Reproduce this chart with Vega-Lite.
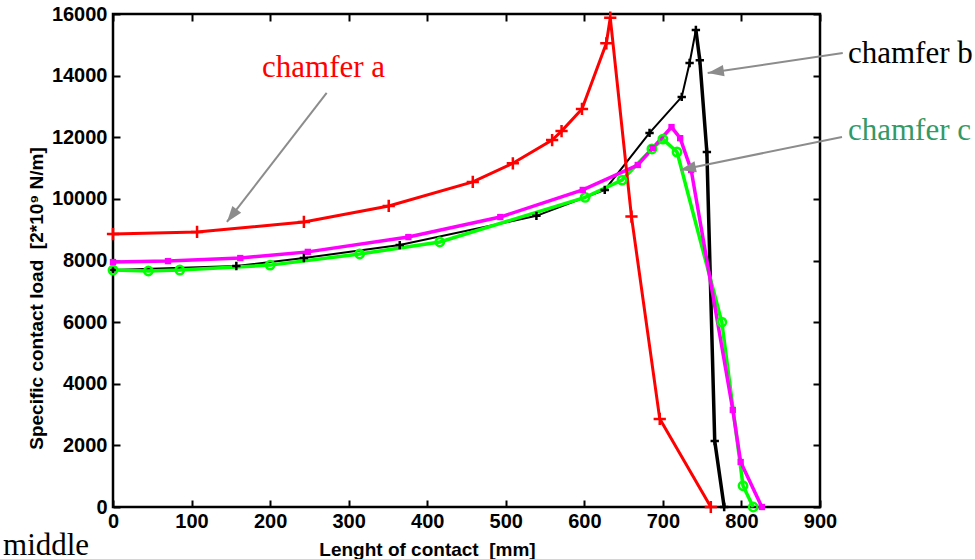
{
  "$schema": "https://vega.github.io/schema/vega-lite/v6.json",
  "width": 707,
  "height": 493,
  "autosize": {"type": "none"},
  "padding": {"left": 113, "top": 14, "right": 155, "bottom": 52},
  "background": "#ffffff",
  "config": {
    "view": {"stroke": "#000000", "strokeWidth": 2.5},
    "axis": {
      "domain": false, "grid": false, "tickSize": -7, "tickWidth": 2, "tickColor": "#000000",
      "labelFont": "Liberation Sans", "labelFontWeight": "bold", "labelFontSize": 20, "labelColor": "#000000",
      "labelFlush": false, "labelOverlap": false, "format": "d",
      "titleFont": "Liberation Sans", "titleFontWeight": "bold", "titleFontSize": 19, "titleColor": "#000000"
    }
  },
  "datasets": {
    "curves": [
      {"series": "chamfer b", "length": 0, "load": 7690},
      {"series": "chamfer b", "length": 157, "load": 7820},
      {"series": "chamfer b", "length": 243, "load": 8080},
      {"series": "chamfer b", "length": 365, "load": 8500},
      {"series": "chamfer b", "length": 539, "load": 9450},
      {"series": "chamfer b", "length": 626, "load": 10290},
      {"series": "chamfer b", "length": 683, "load": 12140},
      {"series": "chamfer b", "length": 724, "load": 13310},
      {"series": "chamfer b", "length": 734, "load": 14410},
      {"series": "chamfer b", "length": 742, "load": 15480},
      {"series": "chamfer b", "length": 747, "load": 14500},
      {"series": "chamfer b", "length": 756, "load": 11520},
      {"series": "chamfer b", "length": 766, "load": 2140},
      {"series": "chamfer b", "length": 778, "load": 0},
      {"series": "chamfer c", "length": 0, "load": 7690},
      {"series": "chamfer c", "length": 45, "load": 7660},
      {"series": "chamfer c", "length": 85, "load": 7690},
      {"series": "chamfer c", "length": 200, "load": 7850},
      {"series": "chamfer c", "length": 314, "load": 8210},
      {"series": "chamfer c", "length": 416, "load": 8600},
      {"series": "chamfer c", "length": 601, "load": 10050},
      {"series": "chamfer c", "length": 648, "load": 10610},
      {"series": "chamfer c", "length": 686, "load": 11620},
      {"series": "chamfer c", "length": 700, "load": 11940},
      {"series": "chamfer c", "length": 718, "load": 11520},
      {"series": "chamfer c", "length": 775, "load": 6000},
      {"series": "chamfer c", "length": 802, "load": 690},
      {"series": "chamfer c", "length": 815, "load": 0},
      {"series": "middle", "length": 0, "load": 7950},
      {"series": "middle", "length": 70, "load": 7980},
      {"series": "middle", "length": 162, "load": 8080},
      {"series": "middle", "length": 248, "load": 8280},
      {"series": "middle", "length": 376, "load": 8760},
      {"series": "middle", "length": 493, "load": 9410},
      {"series": "middle", "length": 598, "load": 10290},
      {"series": "middle", "length": 668, "load": 11100},
      {"series": "middle", "length": 687, "load": 11650},
      {"series": "middle", "length": 711, "load": 12330},
      {"series": "middle", "length": 722, "load": 11970},
      {"series": "middle", "length": 736, "load": 10940},
      {"series": "middle", "length": 789, "load": 3150},
      {"series": "middle", "length": 799, "load": 1460},
      {"series": "middle", "length": 826, "load": 0},
      {"series": "chamfer a", "length": 0, "load": 8860},
      {"series": "chamfer a", "length": 107, "load": 8925},
      {"series": "chamfer a", "length": 243, "load": 9250},
      {"series": "chamfer a", "length": 351, "load": 9770},
      {"series": "chamfer a", "length": 458, "load": 10550},
      {"series": "chamfer a", "length": 509, "load": 11155},
      {"series": "chamfer a", "length": 559, "load": 11910},
      {"series": "chamfer a", "length": 571, "load": 12200},
      {"series": "chamfer a", "length": 597, "load": 12920},
      {"series": "chamfer a", "length": 628, "load": 15050},
      {"series": "chamfer a", "length": 633, "load": 15880},
      {"series": "chamfer a", "length": 660, "load": 9425},
      {"series": "chamfer a", "length": 696, "load": 2860},
      {"series": "chamfer a", "length": 761, "load": 0}
    ],
    "arrows": [
      {"label": "chamfer a", "x": 272, "y": 13437, "tx": 145, "ty": 9250, "hx": 151.3, "hy": 9455},
      {"label": "chamfer b", "x": 929, "y": 14735, "tx": 757, "ty": 14086, "hx": 767.4, "hy": 14125},
      {"label": "chamfer c", "x": 928, "y": 12009, "tx": 722, "ty": 10938, "hx": 731.7, "hy": 10990}
    ],
    "labels": [
      {"text": "chamfer a", "x": 189.7, "y": 13956},
      {"text": "chamfer b", "x": 935.6, "y": 14411},
      {"text": "chamfer c", "x": 935.6, "y": 11912},
      {"text": "middle", "x": -140, "y": -1560}
    ]
  },
  "resolve": {"scale": {"color": "independent"}, "axis": {"x": "independent", "y": "independent"}},
  "layer": [
    {
      "data": {"name": "curves"},
      "transform": [{"filter": "datum.series === 'chamfer b' && datum.length <= 742"}],
      "mark": {"type": "line", "color": "#000000", "strokeWidth": 2},
      "encoding": {
        "x": {"field": "length", "type": "quantitative", "scale": {"domain": [0, 900], "nice": false, "zero": false},
          "axis": {"orient": "bottom", "values": [0, 100, 200, 300, 400, 500, 600, 700, 800, 900], "labelPadding": 11,
            "title": "Lenght of contact\u00a0 [mm]", "titleX": 314, "titleY": 48, "titleAlign": "center", "titleBaseline": "alphabetic"}},
        "y": {"field": "load", "type": "quantitative", "scale": {"domain": [0, 16000], "nice": false, "zero": false},
          "axis": {"orient": "left", "values": [0, 2000, 4000, 6000, 8000, 10000, 12000, 14000, 16000], "labelPadding": 13,
            "title": "Specific contact load\u00a0 [2*10⁹ N/m]", "titleX": -71, "titleY": 284, "titleAlign": "center", "titleBaseline": "alphabetic", "titleAngle": -90}}
      }
    },
    {
      "data": {"name": "curves"},
      "transform": [{"filter": "datum.series === 'chamfer b' && datum.length >= 742"}],
      "mark": {"type": "line", "color": "#000000", "strokeWidth": 3.5},
      "encoding": {
        "x": {"field": "length", "type": "quantitative", "scale": {"domain": [0, 900], "nice": false, "zero": false}, "axis": null},
        "y": {"field": "load", "type": "quantitative", "scale": {"domain": [0, 16000], "nice": false, "zero": false}, "axis": null}
      }
    },
    {
      "data": {"name": "curves"},
      "transform": [{"filter": "datum.series === 'chamfer c'"}],
      "mark": {"type": "line", "color": "#00ff00", "strokeWidth": 3.5},
      "encoding": {
        "x": {"field": "length", "type": "quantitative", "scale": {"domain": [0, 900], "nice": false, "zero": false}, "axis": null},
        "y": {"field": "load", "type": "quantitative", "scale": {"domain": [0, 16000], "nice": false, "zero": false}, "axis": null}
      }
    },
    {
      "data": {"name": "curves"},
      "transform": [{"filter": "datum.series === 'middle'"}],
      "mark": {"type": "line", "color": "#ff00ff", "strokeWidth": 3.5},
      "encoding": {
        "x": {"field": "length", "type": "quantitative", "scale": {"domain": [0, 900], "nice": false, "zero": false}, "axis": null},
        "y": {"field": "load", "type": "quantitative", "scale": {"domain": [0, 16000], "nice": false, "zero": false}, "axis": null}
      }
    },
    {
      "data": {"name": "curves"},
      "transform": [{"filter": "datum.series === 'chamfer a'"}],
      "mark": {"type": "line", "color": "#ff0000", "strokeWidth": 3},
      "encoding": {
        "x": {"field": "length", "type": "quantitative", "scale": {"domain": [0, 900], "nice": false, "zero": false}, "axis": null},
        "y": {"field": "load", "type": "quantitative", "scale": {"domain": [0, 16000], "nice": false, "zero": false}, "axis": null}
      }
    },
    {
      "data": {"name": "curves"},
      "transform": [{"filter": "datum.series === 'chamfer a'"}],
      "mark": {"type": "point", "shape": "M-1,0L1,0M0,-1L0,1", "filled": false, "color": "#ff0000", "strokeWidth": 2.5, "opacity": 1, "size": 150},
      "encoding": {
        "x": {"field": "length", "type": "quantitative", "scale": {"domain": [0, 900], "nice": false, "zero": false}, "axis": null},
        "y": {"field": "load", "type": "quantitative", "scale": {"domain": [0, 16000], "nice": false, "zero": false}, "axis": null}
      }
    },
    {
      "data": {"name": "curves"},
      "transform": [{"filter": "datum.series === 'chamfer b'"}],
      "mark": {"type": "point", "shape": "M-1,0L1,0M0,-1L0,1", "filled": false, "color": "#000000", "strokeWidth": 2.5, "opacity": 1, "size": 70},
      "encoding": {
        "x": {"field": "length", "type": "quantitative", "scale": {"domain": [0, 900], "nice": false, "zero": false}, "axis": null},
        "y": {"field": "load", "type": "quantitative", "scale": {"domain": [0, 16000], "nice": false, "zero": false}, "axis": null}
      }
    },
    {
      "data": {"name": "curves"},
      "transform": [{"filter": "datum.series === 'chamfer c'"}],
      "mark": {"type": "point", "shape": "circle", "filled": false, "color": "#00ff00", "strokeWidth": 2.5, "opacity": 1, "size": 70},
      "encoding": {
        "x": {"field": "length", "type": "quantitative", "scale": {"domain": [0, 900], "nice": false, "zero": false}, "axis": null},
        "y": {"field": "load", "type": "quantitative", "scale": {"domain": [0, 16000], "nice": false, "zero": false}, "axis": null}
      }
    },
    {
      "data": {"name": "curves"},
      "transform": [{"filter": "datum.series === 'middle'"}],
      "mark": {"type": "point", "shape": "square", "filled": true, "color": "#ff00ff", "opacity": 1, "size": 40},
      "encoding": {
        "x": {"field": "length", "type": "quantitative", "scale": {"domain": [0, 900], "nice": false, "zero": false}, "axis": null},
        "y": {"field": "load", "type": "quantitative", "scale": {"domain": [0, 16000], "nice": false, "zero": false}, "axis": null}
      }
    },
    {
      "data": {"name": "arrows"},
      "mark": {"type": "rule", "color": "#8c8c8c", "strokeWidth": 2},
      "encoding": {
        "x": {"field": "x", "type": "quantitative", "scale": {"domain": [0, 900], "nice": false, "zero": false}, "axis": null},
        "y": {"field": "y", "type": "quantitative", "scale": {"domain": [0, 16000], "nice": false, "zero": false}, "axis": null},
        "x2": {"field": "tx"},
        "y2": {"field": "ty"}
      }
    },
    {
      "data": {"name": "arrows"},
      "transform": [{"filter": "datum.label === 'chamfer a'"}],
      "mark": {"type": "point", "shape": "M0,-1L0.7,1L-0.7,1Z", "filled": true, "color": "#8c8c8c", "opacity": 1, "size": 256, "angle": 217.8},
      "encoding": {
        "x": {"field": "hx", "type": "quantitative", "scale": {"domain": [0, 900], "nice": false, "zero": false}, "axis": null},
        "y": {"field": "hy", "type": "quantitative", "scale": {"domain": [0, 16000], "nice": false, "zero": false}, "axis": null}
      }
    },
    {
      "data": {"name": "arrows"},
      "transform": [{"filter": "datum.label === 'chamfer b'"}],
      "mark": {"type": "point", "shape": "M0,-1L0.7,1L-0.7,1Z", "filled": true, "color": "#8c8c8c", "opacity": 1, "size": 256, "angle": 261.6},
      "encoding": {
        "x": {"field": "hx", "type": "quantitative", "scale": {"domain": [0, 900], "nice": false, "zero": false}, "axis": null},
        "y": {"field": "hy", "type": "quantitative", "scale": {"domain": [0, 16000], "nice": false, "zero": false}, "axis": null}
      }
    },
    {
      "data": {"name": "arrows"},
      "transform": [{"filter": "datum.label === 'chamfer c'"}],
      "mark": {"type": "point", "shape": "M0,-1L0.7,1L-0.7,1Z", "filled": true, "color": "#8c8c8c", "opacity": 1, "size": 256, "angle": 258.5},
      "encoding": {
        "x": {"field": "hx", "type": "quantitative", "scale": {"domain": [0, 900], "nice": false, "zero": false}, "axis": null},
        "y": {"field": "hy", "type": "quantitative", "scale": {"domain": [0, 16000], "nice": false, "zero": false}, "axis": null}
      }
    },
    {
      "data": {"name": "labels"},
      "mark": {"type": "text", "font": "Liberation Serif", "fontSize": 31, "align": "left", "baseline": "alphabetic"},
      "encoding": {
        "x": {"field": "x", "type": "quantitative", "scale": {"domain": [0, 900], "nice": false, "zero": false}, "axis": null},
        "y": {"field": "y", "type": "quantitative", "scale": {"domain": [0, 16000], "nice": false, "zero": false}, "axis": null},
        "text": {"field": "text"},
        "color": {"field": "text", "type": "nominal", "legend": null,
          "scale": {"domain": ["chamfer a", "chamfer b", "chamfer c", "middle"], "range": ["#ff0000", "#000000", "#339966", "#000000"]}}
      }
    },
    {
      "data": {"name": "labels"},
      "mark": {"type": "point", "opacity": 0},
      "encoding": {
        "x": {"field": "x", "type": "quantitative", "scale": {"domain": [0, 900], "nice": false, "zero": false},
          "axis": {"orient": "top", "values": [0, 100, 200, 300, 400, 500, 600, 700, 800, 900], "labels": false, "title": null}},
        "y": {"field": "y", "type": "quantitative", "scale": {"domain": [0, 16000], "nice": false, "zero": false},
          "axis": {"orient": "right", "values": [0, 2000, 4000, 6000, 8000, 10000, 12000, 14000, 16000], "labels": false, "title": null}}
      }
    }
  ]
}
